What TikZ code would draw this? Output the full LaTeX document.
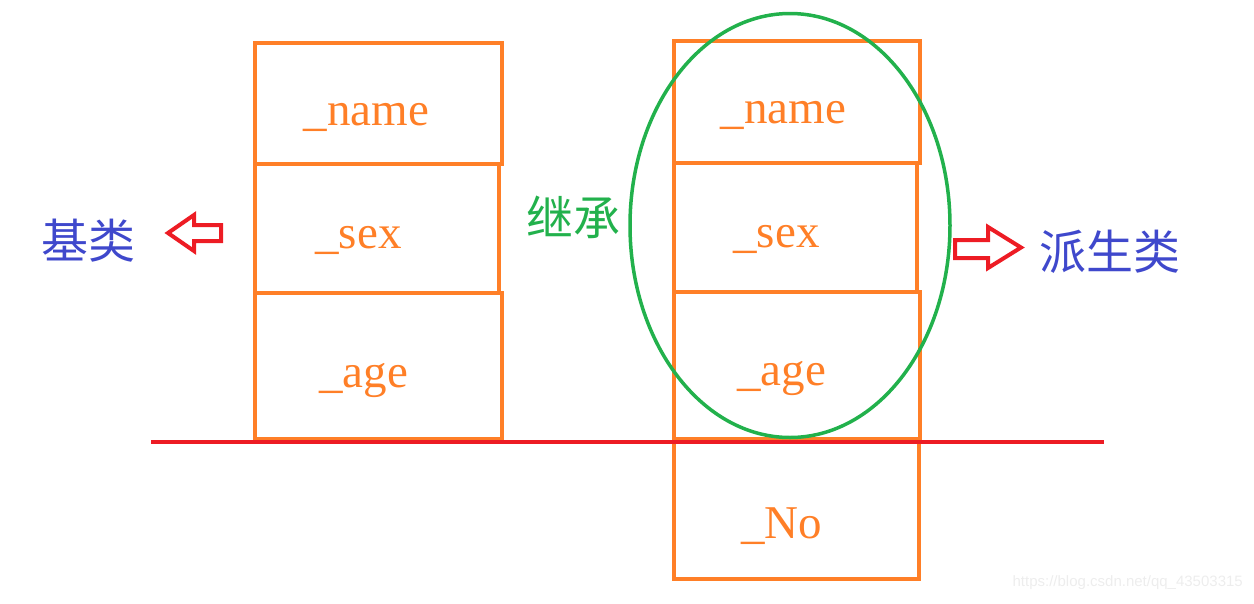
\documentclass[tikz,border=0pt]{standalone}
\usepackage{fontspec}
\setmainfont{Liberation Serif}
\newfontfamily\cjk{Noto Sans CJK SC}
\newfontfamily\wmfont{Liberation Sans}
\definecolor{porange}{HTML}{FF7F27}
\definecolor{pred}{HTML}{ED1C24}
\definecolor{pgreen}{HTML}{22B14C}
\definecolor{pblue}{HTML}{3F48CC}
\tikzset{
  fieldbox/.style={draw=porange,line width=4pt},
  fieldtext/.style={text=porange,inner sep=0pt,anchor=base,font=\fontsize{47}{50}\selectfont},
  cjktext/.style={inner sep=0pt,font=\cjk\fontsize{47}{50}\selectfont},
  hollowarrow/.style={draw=pred,line width=4pt,line join=miter}
}
\begin{document}
\begin{tikzpicture}[x=1pt,y=-1pt]
\useasboundingbox (0,0) rectangle (1254,603);
% left (base class) boxes
\draw[fieldbox] (255,42.5) rectangle (502,164);
\draw[fieldbox] (255,164) rectangle (499,292.5);
\draw[fieldbox] (255,292.5) rectangle (502,439);
% right (derived class) boxes
\draw[fieldbox] (674,41) rectangle (920,162.5);
\draw[fieldbox] (674,162.5) rectangle (917,292);
\draw[fieldbox] (674,292) rectangle (920,439);
\draw[fieldbox] (674,439) rectangle (919,579);
% red base line
\coordinate (lineL) at (151,442);
\coordinate (lineR) at (1104,442);
\draw[pred,line width=4pt] (lineL) -- (lineR);
% green ellipse
\draw[pgreen,line width=3.5pt] (790,225.5) ellipse [x radius=160, y radius=212];
% field texts
\node[fieldtext] (lname) at (366.5,125) {\_name};
\node[fieldtext] (lsex) at (358.5,248) {\_sex};
\node[fieldtext] (lage) at (363.5,387) {\_age};
\node[fieldtext] (rname) at (783.5,123) {\_name};
\node[fieldtext] (rsex) at (776.5,247) {\_sex};
\node[fieldtext] (rage) at (781.5,385) {\_age};
\node[fieldtext] (rno) at (781.5,538) {\_No};
% labels
\node[cjktext,text=pblue] (base) at (88.5,241) {基类};
\node[cjktext,text=pblue] (derived) at (1110,252) {派生类};
\node[cjktext,text=pgreen] (inherit) at (573.5,217) {继承};
% hollow arrows
\draw[hollowarrow] (168,233) -- (194,215) -- (194,225) -- (221,225) -- (221,241) -- (194,241) -- (194,251) -- cycle;
\draw[hollowarrow] (955,240) -- (988,240) -- (988,227) -- (1021,247.5) -- (988,268) -- (988,258) -- (955,258) -- cycle;
% watermark
\node[inner sep=0pt,anchor=east,text=black!7,font=\wmfont\fontsize{15}{17}\selectfont] (wm) at (1243,583) {https://blog.csdn.net/qq\_43503315};
\end{tikzpicture}
\end{document}
